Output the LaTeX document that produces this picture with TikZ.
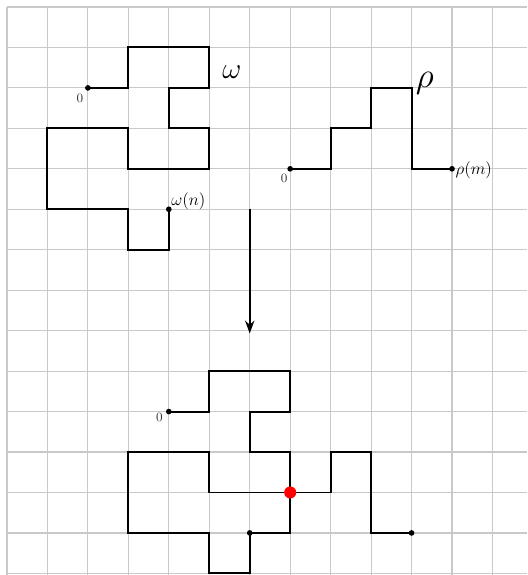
\documentclass[tikz,border=0pt]{standalone}
\usetikzlibrary{arrows.meta}
\begin{document}
\begin{tikzpicture}[x=1cm,y=1cm,
  gridline/.style={draw=gray!42,line width=0.8pt},
  walk/.style={draw=black,line width=1.35pt,line join=miter},
  endpt/.style={circle,fill=black,inner sep=0pt,minimum size=4pt},
  meet/.style={circle,fill=red,inner sep=0pt,minimum size=8.5pt},
  smalllab/.style={font=\small,text=black!80,inner sep=1pt},
  midlab/.style={font=\large,inner sep=1pt},
  biglab/.style={font=\huge,inner sep=0pt}]
\useasboundingbox (-0.173,0.173) rectangle (12.855,-14.04);
\fill[white] (-0.173,0.173) rectangle (12.855,-14.04);
% grid
\foreach \i in {0,...,12} \draw[gridline] (\i,0) -- (\i,-14.04);
\foreach \j in {0,...,14} \draw[gridline] (0,-\j) -- (12.855,-\j);
% omega
\coordinate (w0) at (2,-2);
\coordinate (wn) at (4,-5);
\draw[walk] (w0) -- (3,-2) -- (3,-1) -- (5,-1) -- (5,-2) -- (4,-2) -- (4,-3) -- (5,-3) -- (5,-4) -- (3,-4) -- (3,-3) -- (1,-3) -- (1,-5) -- (3,-5) -- (3,-6) -- (4,-6) -- (wn);
\node[endpt] (w0d) at (w0) {};
\node[endpt] (wnd) at (wn) {};
\node[smalllab] (w0l) at (1.8,-2.25) {$0$};
\node[midlab,anchor=south west] (wnl) at (4.02,-5.05) {$\omega(n)$};
\node[biglab] (wl) at (5.56,-1.6) {$\omega$};
% rho
\coordinate (r0) at (7,-4);
\coordinate (rm) at (11,-4);
\draw[walk] (r0) -- (8,-4) -- (8,-3) -- (9,-3) -- (9,-2) -- (10,-2) -- (10,-4) -- (rm);
\node[endpt] (r0d) at (r0) {};
\node[endpt] (rmd) at (rm) {};
\node[smalllab] (r0l) at (6.85,-4.24) {$0$};
\node[midlab,anchor=west] (rml) at (11.05,-4.03) {$\rho(m)$};
\node[biglab,font=\Huge] (rl) at (10.33,-1.88) {$\rho$};
% arrow
\coordinate (as) at (6,-5);
\coordinate (ae) at (6,-8.07);
\draw[line width=1.4pt,-{Stealth[length=9pt,width=6.5pt]}] (as) -- (ae);
% concatenation
\coordinate (c0) at (4,-10);
\coordinate (cn) at (6,-13);
\coordinate (cm) at (7,-12);
\coordinate (ce) at (10,-13);
\draw[walk] (c0) -- (5,-10) -- (5,-9) -- (7,-9) -- (7,-10) -- (6,-10) -- (6,-11) -- (7,-11) -- (7,-12) -- (5,-12) -- (5,-11) -- (3,-11) -- (3,-13) -- (5,-13) -- (5,-14) -- (6,-14) -- (cn) -- (7,-13) -- (cm) -- (8,-12) -- (8,-11) -- (9,-11) -- (9,-13) -- (ce);
\node[endpt] (c0d) at (c0) {};
\node[endpt] (cnd) at (cn) {};
\node[endpt] (ced) at (ce) {};
\node[meet] (cmd) at (cm) {};
\node[smalllab] (c0l) at (3.77,-10.14) {$0$};
\end{tikzpicture}
\end{document}
